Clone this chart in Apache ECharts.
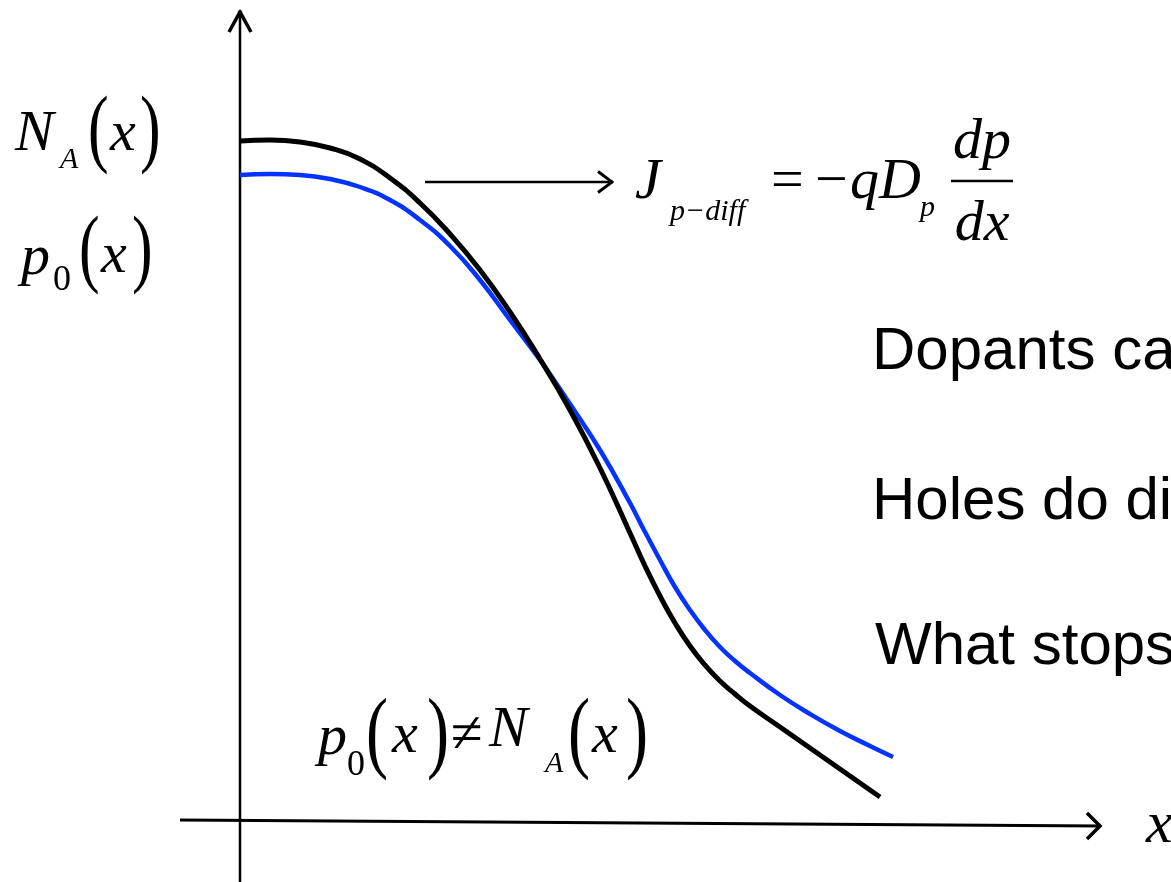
<!DOCTYPE html>
<html><head><meta charset="utf-8">
<script src="https://cdn.jsdelivr.net/npm/echarts@6/dist/echarts.min.js"></script>
<style>html,body{margin:0;padding:0;background:#fff;}#c{width:1171px;height:882px;}</style>
</head><body><div id="c"></div>
<script>
// Data space: x = distance right of the vertical axis, y = height above the horizontal axis
const blackCurve = [[0,679],[30,680],[60,678],[90,672],[120,661],[150,642],[180,617],[210,586],[240,550],[270,508],[300,461],[330,410],[360,352],[390,287],[405,254],[420,224],[435,197],[450,174],[465,155],[480,139],[495,126],[510,114],[540,93],[570,72],[600,51],[640,23]];
const blueCurve = [[0,645],[30,646],[60,645],[90,641],[120,633],[150,620],[180,600],[210,574],[240,540],[270,500],[300,460],[330,416],[360,370],[390,317],[405,288],[420,260],[435,233],[450,210],[465,190],[480,173],[495,159],[510,147],[540,125],[570,106],[600,89],[630,74],[653,63]];
const xAxisLine = [[-60,0],[860,-6]];
const yAxisLine = [[0,-62],[0,808]];
const fluxArrow = [[185,638],[372,638]];
const bullets = ['Dopants cannot move', 'Holes do diffuse', 'What stops them?'];

const SERIF = '"Liberation Serif","Times New Roman",serif';
const SANS = '"Liberation Sans",Arial,sans-serif';
const MID = 0.27;

function t(text, x, base, size, italic, align, fam, sx) {
  const el = {type:'text', x:x, y: base - MID*size, silent:true, z:10,
    style:{text:text, font:(italic?'italic ':'')+size+'px '+(fam||SERIF), fill:'#000', align:align||'left', verticalAlign:'middle'}};
  if (sx) { el.scaleX = sx; }
  return el;
}
function par(ch, x, base, size) { return t(ch, x, base, size, false, 'left', SERIF, 0.72); }

// open chevron arrow-head symbol whose tip sits on the symbol centre
function chevron(d, h, th) {
  const len = Math.hypot(d, h), ux = d/len, uy = h/len;
  const nx = -uy*th/2, ny = ux*th/2, ex = ux*th/2, ey = uy*th/2;
  const Tx = d+ex, Ty = h+ey;
  const q1 = [[nx,ny],[Tx+nx,Ty+ny],[Tx-nx,Ty-ny],[-nx,-ny]];
  const q2 = q1.map(p=>[p[0], 2*h-p[1]]).reverse();
  const all = q1.concat(q2);
  const minX = Math.min(...all.map(p=>p[0])), minY = Math.min(...all.map(p=>p[1])), maxY = Math.max(...all.map(p=>p[1]));
  const f = v => v.toFixed(2);
  const poly = q => 'M'+q.map(p=>f(p[0])+','+f(p[1])).join(' L')+' Z';
  const ext = f(2*d-minX);
  return {symbol:'path://'+poly(q1)+' '+poly(q2)+' M'+ext+','+f(h)+' L'+ext+','+f(h)+' Z', size:[2*d-2*minX, maxY-minY]};
}

function arrowLine(name, pts, rot, head, width) {
  const data = pts.map((p,i)=> i===pts.length-1
    ? {value:p, symbol:head.symbol, symbolSize:head.size, symbolRotate:rot, symbolKeepAspect:false}
    : {value:p, symbol:'none'});
  return {name:name, type:'line', data:data, showSymbol:true, symbol:'none', lineStyle:{color:'#000', width:width},
    itemStyle:{color:'#000'}, silent:true, z:1};
}

const graphics = [
  // N_A(x)
  t('N',15,150,58,true), t('A',60,168,30,true), par('(',88,157,86), t('x',110,150,58,true), par(')',140,157,86),
  // p0(x)
  t('p',21,274,58,true), t('0',53,290,36,false), par('(',79,277,86), t('x',101,272,58,true), par(')',132,277,86),
  // J formula
  t('J',635,198,58,true), t('p\u2212diff',670,220,30,true), t('=',771,198,58,false), t('\u2212',815,198,58,false),
  t('qD',850,198,58,true), t('p',920,216,30,true), t('dp',982,158,58,true,'center'), t('dx',982,240,58,true,'center'),
  {type:'line', shape:{x1:951,y1:181,x2:1013,y2:181}, style:{stroke:'#000', lineWidth:2.5}, silent:true},
  // p0(x) != N_A(x)
  t('p',318,754,58,true), t('0',347,775,36,false), par('(',366,762,92), t('x',392,752,58,true), par(')',427,762,92),
  t('\u2260',451,752,58,false), t('N',489,746,58,true), t('A',545,772,30,true), par('(',568,762,92), t('x',592,752,58,true), par(')',626,762,92),
  // axis label
  t('x',1146,842,60,true),
  // bullets
  t(bullets[0],872,369,60,false,'left',SANS), t(bullets[1],872,519,60,false,'left',SANS), t(bullets[2],875,664,60,false,'left',SANS)
];

const chart = echarts.init(document.getElementById('c'), null, {renderer:'canvas'});
chart.setOption({
  animation:false,
  backgroundColor:'#fff',
  grid:{left:0, right:0, top:0, bottom:0},
  xAxis:{type:'value', min:-240, max:931, show:false},
  yAxis:{type:'value', min:-62, max:820, show:false},
  series:[
    arrowLine('xaxis', xAxisLine, 0, chevron(13,13,3.5), 3),
    arrowLine('yaxis', yAxisLine, 90, chevron(20,11,3.5), 2.5),
    arrowLine('flux', fluxArrow, 0, chevron(14,10.5,3), 2.5),
    {name:'N_A', type:'line', data:blackCurve, smooth:0.5, showSymbol:false, lineStyle:{color:'#000', width:5}, silent:true, z:3},
    {name:'p0', type:'line', data:blueCurve, smooth:0.5, showSymbol:false, lineStyle:{color:'#0433ff', width:4.5}, silent:true, z:2}
  ],
  graphic:graphics
});
</script></body></html>
